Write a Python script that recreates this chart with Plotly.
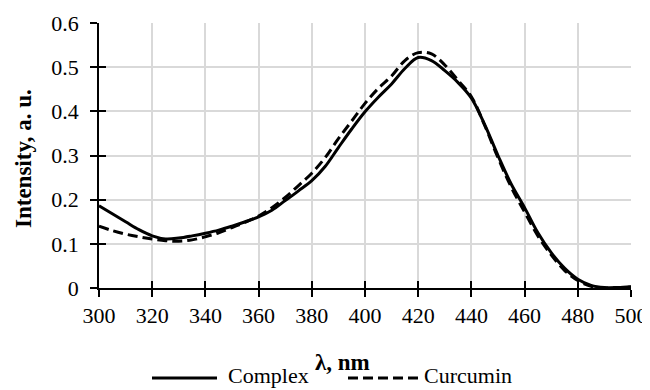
import plotly.graph_objects as go

wavelength = [300, 305, 310, 315, 320, 325, 330, 335, 340, 345, 350, 355, 360, 365, 370,
              375, 380, 385, 390, 395, 400, 405, 410, 415, 420, 425, 430, 435, 440, 445,
              450, 455, 460, 465, 470, 475, 480, 485, 490, 495, 500]

complex_vals = [0.186, 0.168, 0.150, 0.132, 0.118, 0.111, 0.113, 0.118, 0.124, 0.131,
                0.140, 0.150, 0.161, 0.176, 0.198, 0.220, 0.243, 0.275, 0.318, 0.360,
                0.399, 0.432, 0.462, 0.497, 0.522, 0.515, 0.492, 0.465, 0.430, 0.370,
                0.300, 0.235, 0.182, 0.125, 0.080, 0.045, 0.020, 0.006, 0.001, 0.001, 0.003]

curcumin_vals = [0.140, 0.130, 0.122, 0.116, 0.111, 0.107, 0.106, 0.109, 0.116, 0.125,
                 0.137, 0.149, 0.163, 0.182, 0.205, 0.232, 0.260, 0.295, 0.338, 0.378,
                 0.418, 0.452, 0.480, 0.515, 0.533, 0.530, 0.505, 0.470, 0.433, 0.368,
                 0.295, 0.228, 0.172, 0.118, 0.075, 0.040, 0.017, 0.004, 0.000, 0.001, 0.002]

series_names = ["Complex", "Curcumin"]

x_ticks = [300, 320, 340, 360, 380, 400, 420, 440, 460, 480, 500]
y_ticks = [0, 0.1, 0.2, 0.3, 0.4, 0.5, 0.6]
y_tick_text = ["0", "0.1", "0.2", "0.3", "0.4", "0.5", "0.6"]

x_title = "λ, nm"
y_title = "Intensity, a. u."

FONT = "Liberation Serif, Times New Roman, serif"
DASH = "10px,5px"

# figure is placed at (8, 8) in the page, so use 642x382
W, H = 642, 382
L, T, PW, PH = 91, 15, 532, 265


def px(fx):
    return (fx - L) / PW


def py(fy):
    return (T + PH - fy) / PH


fig = go.Figure()
fig.add_trace(go.Scatter(x=wavelength, y=complex_vals, mode="lines", name=series_names[0],
                         line=dict(color="black", width=3, shape="spline"), showlegend=False))
fig.add_trace(go.Scatter(x=wavelength, y=curcumin_vals, mode="lines", name=series_names[1],
                         line=dict(color="black", width=3, dash=DASH, shape="spline"),
                         showlegend=False))
# helper trace so the overlay axes (inner half of the crossing tick marks) are drawn
fig.add_trace(go.Scatter(x=[], y=[], xaxis="x2", yaxis="y2", showlegend=False, hoverinfo="skip"))

leg_y = py(370)
shapes = [
    dict(type="line", xref="paper", yref="paper", x0=px(144), x1=px(209), y0=leg_y, y1=leg_y,
         line=dict(color="black", width=3)),
    dict(type="line", xref="paper", yref="paper", x0=px(340), x1=px(412), y0=leg_y, y1=leg_y,
         line=dict(color="black", width=3, dash=DASH)),
]

annotations = [
    dict(text=series_names[0], xref="paper", yref="paper", x=px(219), y=py(367),
         xanchor="left", yanchor="middle", showarrow=False, borderpad=0, font=dict(size=22)),
    dict(text=series_names[1], xref="paper", yref="paper", x=px(415), y=py(367),
         xanchor="left", yanchor="middle", showarrow=False, borderpad=0, font=dict(size=22)),
    dict(text="<b>" + x_title + "</b>", xref="paper", yref="paper", x=px(334), y=py(354),
         xanchor="center", yanchor="middle", showarrow=False, borderpad=0, font=dict(size=23)),
    dict(text="<b>" + y_title + "</b>", xref="paper", yref="paper", x=0, xshift=-76,
         y=py(151), xanchor="center", yanchor="middle", textangle=-90, borderpad=0,
         showarrow=False, font=dict(size=23)),
]

fig.update_layout(
    width=W, height=H,
    margin=dict(l=L, r=W - L - PW, t=T, b=H - T - PH, autoexpand=False),
    paper_bgcolor="white", plot_bgcolor="white",
    font=dict(family=FONT, size=22, color="black"),
    xaxis=dict(range=[300, 500], tickvals=x_ticks, showgrid=True, gridcolor="#d9d9d9",
               gridwidth=1.5, zeroline=False, showline=True, linecolor="black", linewidth=1.5,
               ticks="outside", ticklen=7, tickwidth=1.5, tickcolor="black",
               ticklabelstandoff=0, automargin=False),
    yaxis=dict(range=[0, 0.6], tickvals=y_ticks, ticktext=y_tick_text, showgrid=True,
               gridcolor="#d9d9d9", gridwidth=1.5, zeroline=False, showline=True,
               linecolor="black", linewidth=1.5, ticks="outside", ticklen=7, tickwidth=1.5,
               tickcolor="black", ticklabelstandoff=7, automargin=False),
    xaxis2=dict(range=[300, 500], tickvals=x_ticks, overlaying="x", anchor="y2", side="bottom",
                showgrid=False, zeroline=False, showline=False, showticklabels=False,
                ticks="inside", ticklen=7, tickwidth=1.5, tickcolor="black"),
    yaxis2=dict(range=[0, 0.6], tickvals=y_ticks, overlaying="y", anchor="x2", side="left",
                showgrid=False, zeroline=False, showline=False, showticklabels=False,
                ticks="inside", ticklen=7, tickwidth=1.5, tickcolor="black"),
    showlegend=False,
    shapes=shapes,
    annotations=annotations,
)

fig.write_html("out.html")
